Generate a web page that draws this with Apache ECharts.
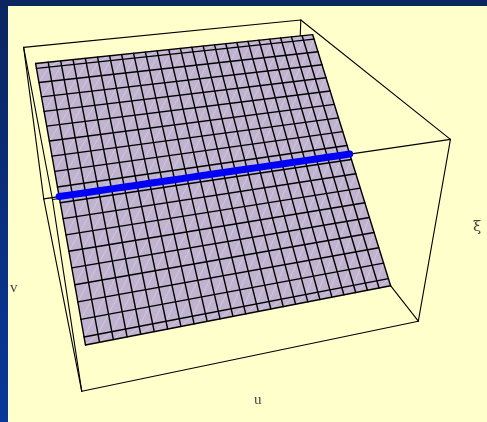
<!DOCTYPE html>
<html>
<head>
<meta charset="utf-8">
<script src="https://cdn.jsdelivr.net/npm/echarts@6/dist/echarts.min.js"></script>
<style>
  html, body { margin: 0; padding: 0; background: #ffffcc; }
  #chart { width: 487px; height: 422px; }
</style>
</head>
<body>
<div id="chart"></div>
<script>
// ---- data (normalised axis units) ----
const uRange = [0, 1];
const vRange = [0, 1];
const xiRange = [0, 1];

// plane patch: spans these u and v, xi rises linearly along v between the two values
const surfaceU = [0.03, 1.0];
const surfaceV = [0.172, 0.885];
const surfaceXi = [0.0, 0.97];

// mesh: cells across u, and the v positions of the interior mesh lines
const uCells = 24;
const vMeshFirst = [0.190];
const vMeshStep = [0.04006];
const vMeshCount = [18];

// highlighted curve v = const lying on the plane
const curveV = [0.526];

const axisNames = ['u', 'v', 'ξ'];

// ---- view (box proportions and perspective camera) ----
const boxSize = [0.645, 0.695, 0.382];
const camPos = [0.027, -0.915, 0.878];
const yawDeg = 15.9, pitchDeg = -35.5, rollDeg = 0.75;
const focalPx = 705, principalPx = [240, 269];
const W = 487, H = 422;

const deg = Math.PI / 180;
const dot = (a, b) => a[0] * b[0] + a[1] * b[1] + a[2] * b[2];
const cross = (a, b) => [a[1] * b[2] - a[2] * b[1], a[2] * b[0] - a[0] * b[2], a[0] * b[1] - a[1] * b[0]];

const cy = Math.cos(yawDeg * deg), sy = Math.sin(yawDeg * deg);
const cp = Math.cos(pitchDeg * deg), sp = Math.sin(pitchDeg * deg);
const fwd = [cp * sy, cp * cy, sp];
const right0 = [cy, -sy, 0];
const down0 = cross(fwd, right0);
const cr = Math.cos(rollDeg * deg), sr = Math.sin(rollDeg * deg);
const right = right0.map((x, i) => x * cr + down0[i] * sr);
const down = down0.map((x, i) => x * cr - right0[i] * sr);

function toWorld(u, v, xi) {
  return [
    (u - uRange[0]) / (uRange[1] - uRange[0]) * boxSize[0],
    (v - vRange[0]) / (vRange[1] - vRange[0]) * boxSize[1],
    (xi - xiRange[0]) / (xiRange[1] - xiRange[0]) * boxSize[2]
  ];
}
// perspective projection onto the image plane (x right, y down)
function project(u, v, xi) {
  const w = toWorld(u, v, xi);
  const rel = [w[0] - camPos[0], w[1] - camPos[1], w[2] - camPos[2]];
  const z = dot(rel, fwd);
  return [dot(rel, right) / z, dot(rel, down) / z];
}
function xiOn(v) {
  return surfaceXi[0] + (v - surfaceV[0]) / (surfaceV[1] - surfaceV[0]) * (surfaceXi[1] - surfaceXi[0]);
}

// ---- box edges ----
const U = uRange, V = vRange, X = xiRange;
const corner = (i, j, k) => [U[i], V[j], X[k]];
const backEdges = [
  [corner(0, 1, 0), corner(1, 1, 0)],
  [corner(1, 1, 0), corner(1, 1, 1)],
  [corner(1, 0, 0), corner(1, 1, 0)],
  [corner(0, 1, 0), corner(0, 1, 1)],
  [corner(0, 0, 0), corner(0, 1, 0)]
];
const frontEdges = [
  [corner(0, 1, 1), corner(1, 1, 1)],
  [corner(1, 1, 1), corner(1, 0, 1)],
  [corner(1, 0, 1), corner(0, 0, 1)],
  [corner(0, 0, 1), corner(0, 1, 1)],
  [corner(0, 0, 1), corner(0, 0, 0)],
  [corner(1, 0, 1), corner(1, 0, 0)],
  [corner(0, 0, 0), corner(1, 0, 0)]
];
const segRow = (a, b) => project(a[0], a[1], a[2]).concat(project(b[0], b[1], b[2]));

// ---- surface grid ----
const uLines = [];
for (let i = 0; i <= uCells; i++) uLines.push(surfaceU[0] + (surfaceU[1] - surfaceU[0]) * i / uCells);
const vMesh = [];
for (let k = 0; k < vMeshCount[0]; k++) vMesh.push(vMeshFirst[0] + k * vMeshStep[0]);
const vLines = [surfaceV[0]].concat(vMesh, [surfaceV[1]]);

const P = (u, v) => project(u, v, xiOn(v));
const surfacePoly = [P(surfaceU[0], surfaceV[0]), P(surfaceU[1], surfaceV[0]), P(surfaceU[1], surfaceV[1]), P(surfaceU[0], surfaceV[1])];

const meshSegs = [];
uLines.forEach(u => meshSegs.push(P(u, surfaceV[0]).concat(P(u, surfaceV[1]))));
vLines.forEach(v => meshSegs.push(P(surfaceU[0], v).concat(P(surfaceU[1], v))));

const diagSegs = [];
for (let i = 0; i < uLines.length - 1; i++) {
  for (let k = 0; k < vLines.length - 1; k++) {
    diagSegs.push(P(uLines[i], vLines[k]).concat(P(uLines[i + 1], vLines[k + 1])));
  }
}

const curvePts = uLines.map(u => P(u, curveV[0]));

function segSeries(data, color, width, z) {
  return {
    type: 'custom', z: z, silent: true, clip: false,
    encode: { x: [0, 2], y: [1, 3] },
    data: data,
    renderItem: (params, api) => {
      const a = api.coord([api.value(0), api.value(1)]);
      const b = api.coord([api.value(2), api.value(3)]);
      return { type: 'line', shape: { x1: a[0], y1: a[1], x2: b[0], y2: b[1] },
               style: { stroke: color, lineWidth: width, lineCap: 'round' } };
    }
  };
}

const labelStyle = (text, size, family) => ({
  text: text, fontSize: size, fontFamily: family, fill: '#444'
});

const chart = echarts.init(document.getElementById('chart'), null, { renderer: 'canvas' });
chart.setOption({
  animation: false,
  backgroundColor: '#ffffcc',
  grid: { left: 0, top: 0, width: W, height: H },
  xAxis: { type: 'value', show: false,
           min: (0 - principalPx[0]) / focalPx, max: (W - principalPx[0]) / focalPx },
  yAxis: { type: 'value', show: false, inverse: true,
           min: (0 - principalPx[1]) / focalPx, max: (H - principalPx[1]) / focalPx },
  graphic: [
    { type: 'rect', z: 100, shape: { x: 0, y: 0, width: W, height: 6 },
      style: { fill: '#0b2560' } },
    { type: 'rect', z: 100, shape: { x: 0, y: 0, width: 8, height: H },
      style: { fill: new echarts.graphic.LinearGradient(0, 0, 0, 1, [
        { offset: 0, color: '#0b2560' }, { offset: 1, color: '#08389a' }]) } },
    { type: 'text', z: 50, left: 254, top: 393, style: labelStyle(axisNames[0], 15, 'Liberation Serif') },
    { type: 'text', z: 50, left: 10, top: 281, style: labelStyle(axisNames[1], 15, 'Liberation Serif') },
    { type: 'text', z: 50, left: 473, top: 220, style: labelStyle(axisNames[2], 15, 'DejaVu Serif') }
  ],
  series: [
    segSeries(backEdges.map(e => segRow(e[0], e[1])), '#000', 1.1, 1),
    {
      type: 'custom', z: 2, silent: true, clip: false,
      encode: { x: [0, 2, 4, 6], y: [1, 3, 5, 7] },
      data: [surfacePoly.flat()],
      renderItem: (params, api) => {
        const pts = [0, 1, 2, 3].map(i => api.coord([api.value(2 * i), api.value(2 * i + 1)]));
        return { type: 'polygon', shape: { points: pts }, style: { fill: '#bfb3cf' } };
      }
    },
    segSeries(diagSegs, 'rgba(235,228,240,0.55)', 0.8, 3),
    segSeries(meshSegs, '#000', 1.4, 4),
    segSeries(frontEdges.map(e => segRow(e[0], e[1])), '#000', 1.1, 5),
    {
      type: 'line', z: 6, silent: true, showSymbol: false, clip: false,
      data: curvePts,
      lineStyle: { color: '#0000f5', width: 7, cap: 'round' }
    }
  ]
});
</script>
</body>
</html>
